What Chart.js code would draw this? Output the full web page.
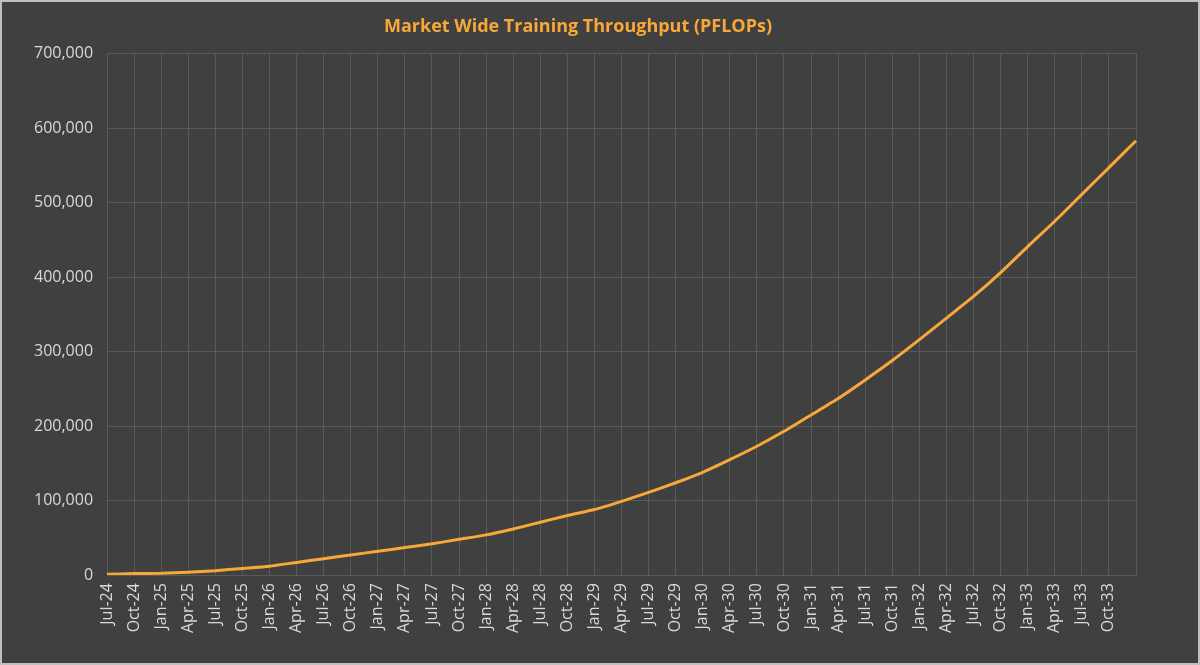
<!DOCTYPE html>
<html><head><meta charset="utf-8">
<script src="https://cdn.jsdelivr.net/npm/chart.js@4"></script>
<style>html,body{margin:0;padding:0;background:#404040;}#wrap{width:1196px;height:661px;border:2px solid #bfbfbf;box-sizing:content-box;}</style>
</head><body><div id="wrap"><canvas id="c" width="1196" height="661"></canvas></div>
<script>
const categories = ["Jul-24","Oct-24","Jan-25","Apr-25","Jul-25","Oct-25","Jan-26","Apr-26","Jul-26","Oct-26","Jan-27","Apr-27","Jul-27","Oct-27","Jan-28","Apr-28","Jul-28","Oct-28","Jan-29","Apr-29","Jul-29","Oct-29","Jan-30","Apr-30","Jul-30","Oct-30","Jan-31","Apr-31","Jul-31","Oct-31","Jan-32","Apr-32","Jul-32","Oct-32","Jan-33","Apr-33","Jul-33","Oct-33","Jan-34"];
const throughput = [1000,2000,2500,4000,6000,9000,12000,17000,22000,27000,32000,37000,42000,48000,54000,62000,71000,80000,88000,99000,111000,124000,138000,155000,173000,193000,215000,237000,262000,288000,316000,345000,374000,406000,441000,475000,511000,547000,583000];
const yTicks = [0,100000,200000,300000,400000,500000,600000,700000];
new Chart(document.getElementById('c'), {
  type: 'line',
  data: { labels: categories, datasets: [{ data: throughput, borderColor: '#f7a838', borderWidth: 3, pointRadius: 0, tension: 0.2, fill: false }] },
  options: {
    responsive: false, animation: false,
    layout: { padding: { left: 18, right: 62, top: 2, bottom: 22 } },
    plugins: { legend: { display: false },
      title: { display: true, text: 'Market Wide Training Throughput (PFLOPs)', color: '#f7a838', font: { family: 'Open Sans', size: 18, weight: 'bold' }, padding: { top: 12, bottom: 16 } } },
    scales: {
      x: { offset: false, grid: { color: '#595959', drawTicks: false }, border: { color: '#595959' },
        ticks: { autoSkip: false, maxRotation: 90, minRotation: 90, color: '#d9d9d9', padding: 8, font: { family: 'Open Sans', size: 16 },
          callback: (v, i) => i === categories.length - 1 ? '' : categories[i] } },
      y: { min: 0, max: 700000, afterBuildTicks: a => { a.ticks = yTicks.map(v => ({ value: v })); },
        grid: { color: '#595959', drawTicks: false }, border: { display: false },
        ticks: { color: '#d9d9d9', padding: 14, font: { family: 'Open Sans', size: 16 }, callback: v => v.toLocaleString('en-US') } }
    }
  }
});
</script></body></html>
